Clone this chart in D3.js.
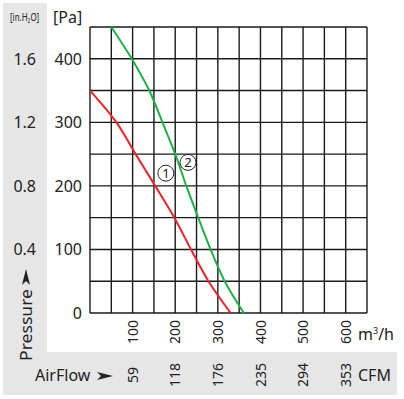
<!DOCTYPE html>
<html>
<head>
<meta charset="utf-8">
<script src="https://cdn.jsdelivr.net/npm/d3@7"></script>
<style>
  body { margin: 0; background: #fff; }
  text { font-family: "Noto Sans", sans-serif; fill: #222; }
</style>
</head>
<body>
<div id="chart"></div>
<script>
// curve 1 (red) and curve 2 (green), airflow in m3/h against pressure in Pa
var flowRed = [0, 62, 107, 153, 198, 237, 278, 330];
var pressRed = [350, 300, 250, 200, 150, 100, 50, 0];
var flowGreen = [50, 98, 139, 170, 200, 226, 254, 283, 316, 361];
var pressGreen = [450, 400, 350, 300, 250, 200, 150, 100, 50, 0];

// tick labels
var paTicks = [0, 100, 200, 300, 400];
var inH2OLabels = ["", "0.4", "0.8", "1.2", "1.6"];
var flowTicks = [100, 200, 300, 400, 500, 600];
var cfmLabels = ["59", "118", "176", "235", "294", "353"];

// curve tags
var tags = [{n: "1", x: 178, y: 220}, {n: "2", x: 230, y: 237}];

var W = 404, H = 399;
var margin = {top: 27, left: 90, right: 37, bottom: 86};

var svg = d3.select("#chart").append("svg")
    .attr("width", W)
    .attr("height", H);

// gray panels
svg.append("rect").attr("x", 3).attr("y", 3).attr("width", 44).attr("height", 392).attr("fill", "#e6e6e6");
svg.append("rect").attr("x", 3).attr("y", 352).attr("width", 394).attr("height", 43).attr("fill", "#e6e6e6");

var x = d3.scaleLinear().domain([0, 650]).range([margin.left, W - margin.right]);
var y = d3.scaleLinear().domain([0, 450]).range([H - margin.bottom, margin.top]);

// grid
var grid = svg.append("g").attr("stroke", "#1a1a1a").attr("stroke-width", 1.4);
grid.selectAll(".v").data(d3.range(0, 651, 50)).enter().append("line")
    .attr("x1", function(d) { return x(d); }).attr("x2", function(d) { return x(d); })
    .attr("y1", y(0)).attr("y2", y(450));
grid.selectAll(".h").data(d3.range(0, 451, 50)).enter().append("line")
    .attr("x1", x(0)).attr("x2", x(650))
    .attr("y1", function(d) { return y(d); }).attr("y2", function(d) { return y(d); });

// pressure labels
svg.selectAll(".pa").data(paTicks).enter().append("text")
    .attr("x", 82).attr("y", function(d) { return y(d); })
    .attr("dy", "0.36em").attr("text-anchor", "end").attr("font-size", 16)
    .text(function(d) { return d; });
svg.selectAll(".inh").data(paTicks).enter().append("text")
    .attr("x", 36).attr("y", function(d) { return y(d); })
    .attr("dy", "0.36em").attr("text-anchor", "end").attr("font-size", 16)
    .text(function(d, i) { return inH2OLabels[i]; });

svg.append("text").attr("x", 53).attr("y", 23).attr("font-size", 16).text("[Pa]");
// narrow unit label, squeezed horizontally
var unit = svg.append("text").attr("transform", "translate(10,21) scale(0.72,1)").attr("font-size", 11);
unit.append("tspan").text("[in.H");
unit.append("tspan").attr("font-size", 7).attr("dy", 2).text("2");
unit.append("tspan").attr("dy", -2).text("O]");

// flow labels (rotated)
svg.selectAll(".fl").data(flowTicks).enter().append("text")
    .attr("transform", function(d) { return "translate(" + x(d) + ",332) rotate(-90)"; })
    .attr("dy", "0.36em").attr("text-anchor", "middle").attr("font-size", 14)
    .text(function(d) { return d; });
svg.selectAll(".cfm").data(flowTicks).enter().append("text")
    .attr("transform", function(d) { return "translate(" + x(d) + ",375) rotate(-90)"; })
    .attr("dy", "0.36em").attr("text-anchor", "middle").attr("font-size", 14)
    .text(function(d, i) { return cfmLabels[i]; });

var m3 = svg.append("text").attr("x", 358).attr("y", 340).attr("font-size", 16);
m3.append("tspan").text("m");
m3.append("tspan").attr("font-size", 9).attr("dy", -6).text("3");
m3.append("tspan").attr("dy", 6).text("/h");
svg.append("text").attr("x", 358).attr("y", 381).attr("font-size", 16).text("CFM");

// axis titles with dart arrows
svg.append("text").attr("x", 35).attr("y", 381).attr("font-size", 16).text("AirFlow");
var dart = "M0,-4 L16,0 L0,4 L4,0 Z";
svg.append("path").attr("d", dart).attr("fill", "#222").attr("transform", "translate(97,376)");
svg.append("text").attr("transform", "translate(32,361) rotate(-90)").attr("font-size", 17)
    .attr("textLength", 72).attr("lengthAdjust", "spacingAndGlyphs").text("Pressure");
svg.append("path").attr("d", dart).attr("fill", "#222").attr("transform", "translate(26,285) rotate(-90)");

// curves
var line = d3.line()
    .x(function(d) { return x(d[0]); })
    .y(function(d) { return y(d[1]); })
    .curve(d3.curveCatmullRom);

svg.append("path").datum(d3.zip(flowRed, pressRed))
    .attr("fill", "none").attr("stroke", "#e8232a").attr("stroke-width", 2)
    .attr("d", line);
svg.append("path").datum(d3.zip(flowGreen, pressGreen))
    .attr("fill", "none").attr("stroke", "#1fb04a").attr("stroke-width", 2)
    .attr("d", line);

// circled tags
var tg = svg.selectAll(".tag").data(tags).enter().append("g")
    .attr("transform", function(d) { return "translate(" + x(d.x) + "," + y(d.y) + ")"; });
tg.append("circle").attr("r", 8).attr("fill", "#fff").attr("stroke", "#222").attr("stroke-width", 1);
tg.append("text").attr("text-anchor", "middle").attr("dy", "0.36em").attr("font-size", 13)
    .text(function(d) { return d.n; });
</script>
</body>
</html>
